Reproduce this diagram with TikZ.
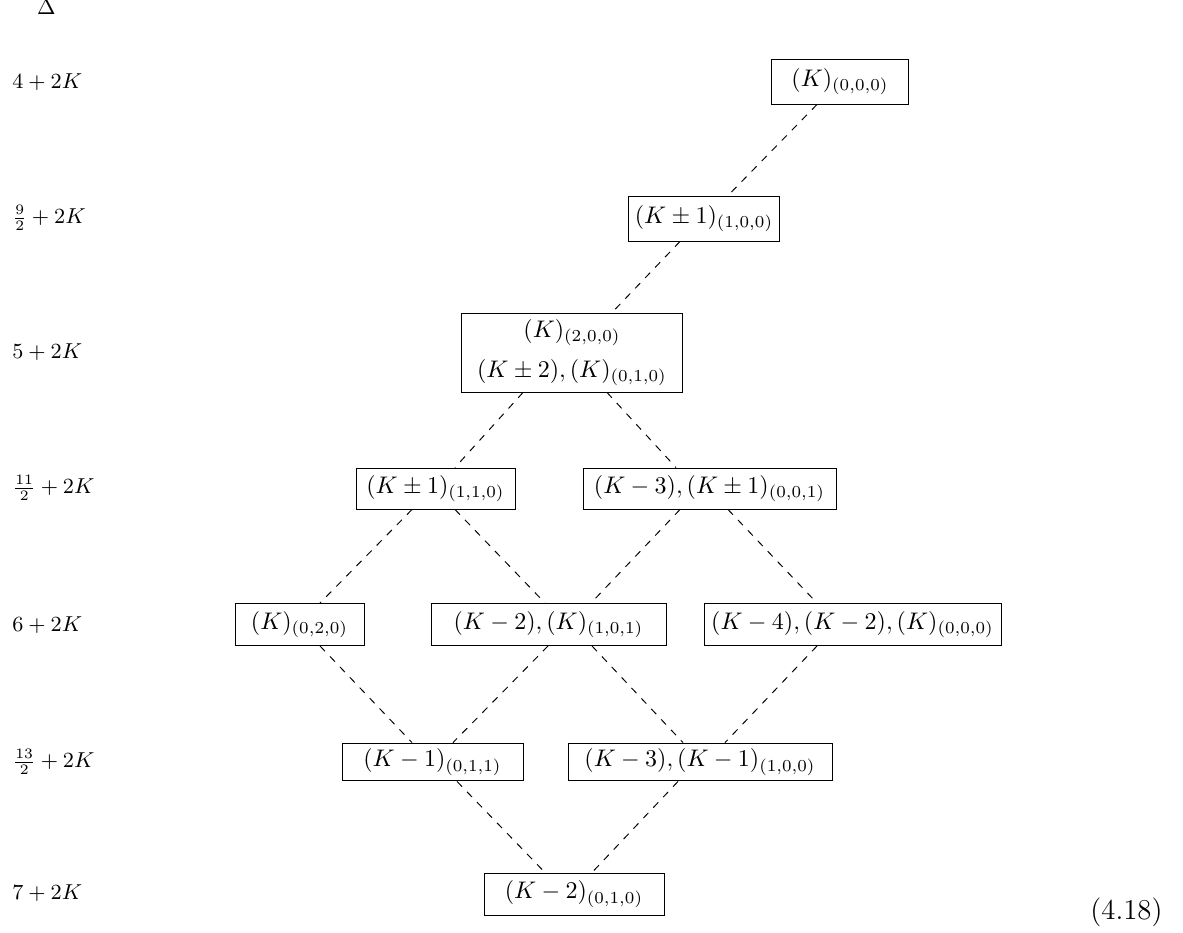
\documentclass[tikz,border=0pt]{standalone}
\usetikzlibrary{calc}
\begin{document}
\begin{tikzpicture}[x=0.41667pt,y=-0.41667pt,
  box/.style={draw, line width=0.4pt, inner xsep=2pt, inner ysep=1pt, minimum width=#1, align=center},
  hA/.style={minimum height=18.75pt},
  hB/.style={minimum height=17.1pt},
  hC/.style={minimum height=17.5pt},
  hD/.style={minimum height=15.8pt},
  lvl/.style={anchor=west, inner sep=0pt, font=\small},
  link/.style={dashed, line width=0.4pt}]
\useasboundingbox (0,0) rectangle (1183,932);
% level labels
\node[inner sep=0pt, anchor=base, font=\small] (delta) at (46.5,14) {$\Delta$};
\node[lvl] (l1) at (12,82) {$4+2K$};
\node[lvl] (l2) at (12,218) {$\frac{9}{2}+2K$};
\node[lvl] (l3) at (12,352) {$5+2K$};
\node[lvl] (l4) at (12,488) {$\frac{11}{2}+2K$};
\node[lvl] (l5) at (12,625) {$6+2K$};
\node[lvl] (l6) at (12,762) {$\frac{13}{2}+2K$};
\node[lvl] (l7) at (12,893) {$7+2K$};
% boxes
\node[box=56.7pt, hA] (n1) at (840,81.5) {$(K)_{(0,0,0)}$};
\node[box=63.3pt, hA] (n2) at (704,218.5) {$(K\pm1)_{(1,0,0)}$};
\node[box=91.7pt, minimum height=32.9pt] (n3) at (572,352.5) {$(K)_{(2,0,0)}$\\[4.5pt]$(K\pm2),(K)_{(0,1,0)}$};
\node[box=66.25pt, hB] (n4) at (435.5,488.5) {$(K\pm1)_{(1,1,0)}$};
\node[box=105.4pt, hB] (n5) at (709.5,488.5) {$(K-3),(K\pm1)_{(0,0,1)}$};
\node[box=53.75pt, hC] (n6) at (299.5,624.5) {$(K)_{(0,2,0)}$};
\node[box=97.9pt, hC] (n7) at (548.5,624.5) {$(K-2),(K)_{(1,0,1)}$};
\node[box=123.75pt, hC] (n8) at (852.5,624.5) {$(K-4),(K-2),(K)_{(0,0,0)}$};
\node[box=75.4pt, hD] (n9) at (432.5,762) {$(K-1)_{(0,1,1)}$};
\node[box=110pt, hD] (n10) at (700,762) {$(K-3),(K-1)_{(1,0,0)}$};
\node[box=75pt, hC] (n11) at (574,894) {$(K-2)_{(0,1,0)}$};
% equation number
\node[anchor=base east, inner sep=0pt, font=\large] (eq) at (1163,919) {(4.18)};
% connectors
\draw[link] ($(n1.south)+(-23,0)$) -- ($(n2.north)+(24,0)$);
\draw[link] ($(n2.south)+(-24,0)$) -- ($(n3.north)+(40,0)$);
\draw[link] ($(n3.south)+(-49,0)$) -- ($(n4.north)+(19.5,0)$);
\draw[link] ($(n3.south)+(35,0)$) -- ($(n5.north)+(-33.5,0)$);
\draw[link] ($(n4.south)+(-23.5,0)$) -- ($(n6.north)+(20.5,0)$);
\draw[link] ($(n4.south)+(19.5,0)$) -- ($(n7.north)+(-3.5,0)$);
\draw[link] ($(n5.south)+(-29.5,0)$) -- ($(n7.north)+(42.5,0)$);
\draw[link] ($(n5.south)+(18.5,0)$) -- ($(n8.north)+(-35.5,0)$);
\draw[link] ($(n6.south)+(20.5,0)$) -- ($(n9.north)+(-20.5,0)$);
\draw[link] ($(n7.south)+(-0.5,0)$) -- ($(n9.north)+(20.5,0)$);
\draw[link] ($(n7.south)+(43.5,0)$) -- ($(n10.north)+(-17,0)$);
\draw[link] ($(n8.south)+(-35.5,0)$) -- ($(n10.north)+(25,0)$);
\draw[link] ($(n9.south)+(24.5,0)$) -- ($(n11.north)+(-29,0)$);
\draw[link] ($(n10.south)+(-22,0)$) -- ($(n11.north)+(18,0)$);
\end{tikzpicture}
\end{document}
